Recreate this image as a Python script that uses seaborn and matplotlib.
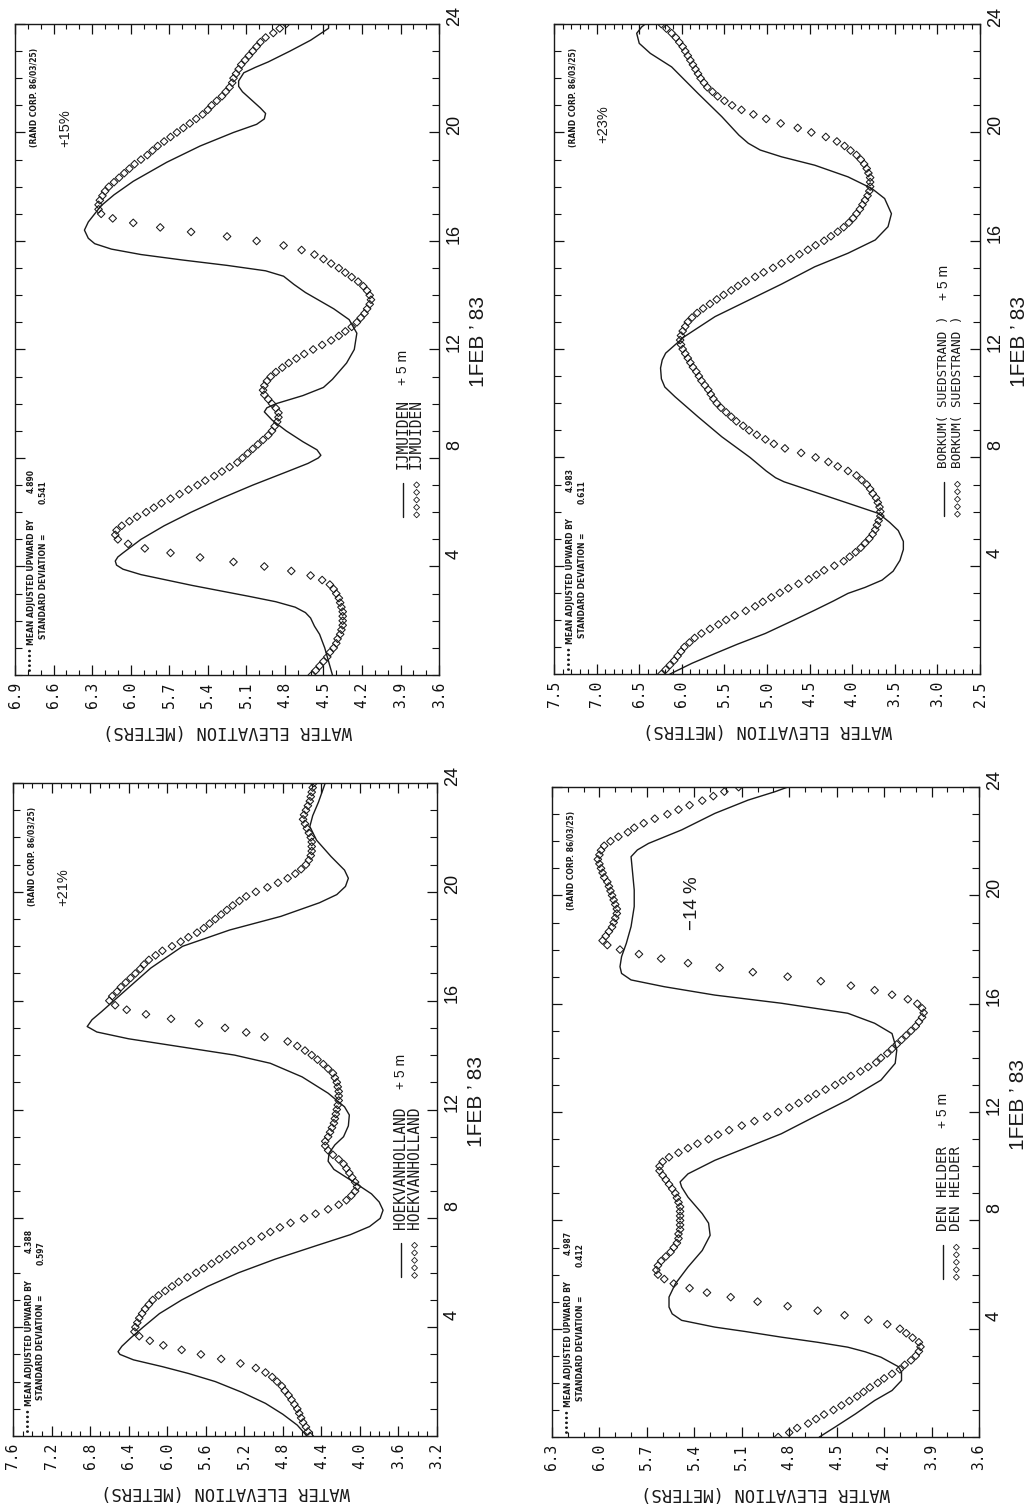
import numpy as np
import pandas as pd
import matplotlib
matplotlib.use("Agg")
import matplotlib.pyplot as plt
import seaborn as sns
from matplotlib.ticker import MultipleLocator
from matplotlib.transforms import ScaledTranslation

sns.set_theme(style="ticks", rc={"axes.edgecolor": "#111111", "axes.linewidth": 1.0,
                                 "xtick.color": "#111111", "ytick.color": "#111111"})
plt.rcParams["font.family"] = ["DejaVu Sans"]

INK = "#1a1a1a"

# ---------------- data ----------------
# observation times: every 10 minutes, 1 Feb 1983, 0-24 h
OBS_HOURS = np.linspace(0, 24, 145)
TIME_TICKS = [4, 8, 12, 16, 20, 24]

# IJMUIDEN
IJM_TICKS = [6.9, 6.6, 6.3, 6.0, 5.7, 5.4, 5.1, 4.8, 4.5, 4.2, 3.9, 3.6]
IJM_LINE = [(0, 4.43), (0.5, 4.46), (1.0, 4.49), (1.5, 4.53), (1.8, 4.57), (2.1, 4.60), (2.3, 4.64),
            (2.5, 4.72), (2.7, 4.87), (2.9, 5.08), (3.1, 5.30), (3.3, 5.52), (3.5, 5.72), (3.7, 5.92),
            (3.9, 6.06), (4.05, 6.11), (4.2, 6.12), (4.35, 6.10), (4.5, 6.06), (5.0, 5.92), (5.5, 5.74),
            (6.0, 5.53), (6.5, 5.30), (7.0, 5.05), (7.5, 4.78), (7.8, 4.62), (8.0, 4.54), (8.1, 4.52),
            (8.3, 4.55), (8.6, 4.66), (9.0, 4.79), (9.4, 4.90), (9.7, 4.96), (9.85, 4.94), (10.0, 4.87),
            (10.3, 4.66), (10.6, 4.50), (10.9, 4.43), (11.5, 4.32), (12.0, 4.26), (12.6, 4.24),
            (13.1, 4.30), (13.5, 4.42), (13.8, 4.53), (14.1, 4.64), (14.4, 4.73), (14.7, 4.81),
            (14.9, 4.95), (15.1, 5.25), (15.3, 5.60), (15.5, 5.92), (15.7, 6.15), (15.9, 6.28),
            (16.1, 6.33), (16.4, 6.36), (16.7, 6.33), (17.0, 6.28), (17.3, 6.23), (17.7, 6.13),
            (18.2, 5.98), (18.9, 5.72), (19.5, 5.46), (20.0, 5.20), (20.3, 5.02), (20.5, 4.96),
            (20.7, 4.95), (20.9, 4.99), (21.2, 5.06), (21.5, 5.13), (21.7, 5.16), (21.9, 5.16),
            (22.2, 5.12), (22.4, 5.03), (22.6, 4.93), (23.0, 4.76), (23.4, 4.60), (23.84, 4.46),
            (24.0, 4.46)]
IJM_OBS = [4.59, 4.56, 4.53, 4.50, 4.47, 4.45, 4.42, 4.40, 4.39, 4.37, 4.36, 4.35,
           4.35, 4.35, 4.35, 4.36, 4.37, 4.38, 4.40, 4.42, 4.45, 4.51, 4.60, 4.75,
           4.96, 5.20, 5.46, 5.69, 5.89, 6.02, 6.10, 6.12, 6.11, 6.07, 6.01, 5.95,
           5.88, 5.82, 5.76, 5.69, 5.62, 5.55, 5.48, 5.42, 5.35, 5.29, 5.23, 5.17,
           5.13, 5.09, 5.05, 5.01, 4.97, 4.93, 4.90, 4.88, 4.86, 4.85, 4.85, 4.87,
           4.90, 4.93, 4.96, 4.97, 4.96, 4.94, 4.91, 4.87, 4.82, 4.77, 4.71, 4.65,
           4.58, 4.51, 4.44, 4.38, 4.33, 4.28, 4.24, 4.21, 4.18, 4.16, 4.14, 4.13,
           4.14, 4.16, 4.19, 4.23, 4.28, 4.33, 4.38, 4.44, 4.50, 4.57, 4.67, 4.81,
           5.02, 5.25, 5.53, 5.77, 5.98, 6.14, 6.23, 6.25, 6.25, 6.24, 6.22, 6.20,
           6.17, 6.13, 6.09, 6.05, 6.01, 5.97, 5.92, 5.87, 5.83, 5.79, 5.74, 5.69,
           5.64, 5.59, 5.54, 5.49, 5.44, 5.40, 5.37, 5.33, 5.29, 5.26, 5.23, 5.21,
           5.20, 5.18, 5.16, 5.14, 5.11, 5.08, 5.05, 5.02, 4.99, 4.95, 4.89, 4.84,
           4.79]

# BORKUM (SUEDSTRAND)
BOR_TICKS = [7.5, 7.0, 6.5, 6.0, 5.5, 5.0, 4.5, 4.0, 3.5, 3.0, 2.5]
BOR_LINE = [(0, 6.14), (0.4, 5.88), (0.76, 5.61), (1.1, 5.35), (1.5, 5.02), (2.0, 4.68), (2.36, 4.44),
            (2.7, 4.22), (2.98, 4.05), (3.2, 3.85), (3.47, 3.65), (3.8, 3.52), (4.2, 3.44), (4.6, 3.40),
            (4.9, 3.40), (5.3, 3.46), (5.6, 3.56), (5.93, 3.69), (6.3, 4.04), (6.7, 4.42), (7.1, 4.80),
            (7.25, 4.90), (7.5, 5.01), (8.0, 5.20), (8.76, 5.53), (9.5, 5.81), (10.24, 6.08),
            (10.6, 6.20), (10.9, 6.24), (11.3, 6.25), (11.6, 6.23), (11.85, 6.19), (12.1, 6.10),
            (12.46, 5.97), (13.2, 5.61), (13.8, 5.22), (14.4, 4.83), (15.04, 4.44), (15.54, 4.05),
            (16.03, 3.73), (16.52, 3.58), (17.0, 3.54), (17.56, 3.62), (17.93, 3.77), (18.36, 4.05),
            (18.79, 4.44), (19.1, 4.83), (19.35, 5.08), (19.6, 5.22), (19.9, 5.33), (20.58, 5.53),
            (21.44, 5.81), (22.42, 6.12), (22.92, 6.37), (23.29, 6.50), (23.66, 6.53), (23.9, 6.47),
            (24.0, 6.43)]
BOR_OBS = [6.24, 6.19, 6.14, 6.09, 6.05, 6.01, 5.97, 5.91, 5.85, 5.77, 5.67, 5.57,
           5.48, 5.38, 5.25, 5.14, 5.05, 4.95, 4.85, 4.75, 4.63, 4.51, 4.42, 4.33,
           4.21, 4.10, 4.03, 3.96, 3.90, 3.85, 3.80, 3.76, 3.73, 3.71, 3.69, 3.67,
           3.67, 3.68, 3.70, 3.72, 3.76, 3.79, 3.83, 3.89, 3.95, 4.05, 4.17, 4.28,
           4.43, 4.60, 4.79, 4.92, 5.02, 5.12, 5.21, 5.28, 5.36, 5.42, 5.48, 5.54,
           5.59, 5.63, 5.66, 5.69, 5.73, 5.77, 5.80, 5.83, 5.87, 5.90, 5.93, 5.96,
           5.99, 6.01, 6.02, 6.01, 5.99, 5.96, 5.93, 5.88, 5.82, 5.75, 5.67, 5.59,
           5.51, 5.42, 5.34, 5.25, 5.14, 5.04, 4.93, 4.83, 4.72, 4.62, 4.52, 4.43,
           4.33, 4.25, 4.17, 4.10, 4.04, 3.99, 3.95, 3.91, 3.88, 3.85, 3.82, 3.80,
           3.79, 3.79, 3.79, 3.81, 3.83, 3.86, 3.90, 3.95, 4.02, 4.09, 4.18, 4.31,
           4.48, 4.64, 4.84, 5.01, 5.16, 5.30, 5.41, 5.50, 5.58, 5.64, 5.70, 5.74,
           5.78, 5.81, 5.84, 5.87, 5.90, 5.93, 5.96, 5.99, 6.03, 6.07, 6.12, 6.18,
           6.24]

# HOEKVANHOLLAND
HVH_TICKS = [7.6, 7.2, 6.8, 6.4, 6.0, 5.6, 5.2, 4.8, 4.4, 4.0, 3.6, 3.2]
HVH_LINE = [(0, 4.55), (0.4, 4.65), (0.8, 4.80), (1.2, 4.98), (1.6, 5.22), (2.0, 5.50), (2.3, 5.78),
            (2.55, 6.05), (2.8, 6.35), (3.0, 6.49), (3.1, 6.51), (3.3, 6.47), (3.6, 6.38), (4.0, 6.25),
            (4.5, 6.08), (5.0, 5.85), (5.5, 5.58), (6.0, 5.26), (6.5, 4.88), (7.0, 4.45), (7.4, 4.10),
            (7.7, 3.90), (8.0, 3.79), (8.3, 3.76), (8.6, 3.80), (8.9, 3.88), (9.3, 4.05), (9.8, 4.27),
            (10.1, 4.33), (10.4, 4.32), (10.7, 4.26), (11.0, 4.17), (11.4, 4.12), (11.8, 4.11),
            (12.1, 4.16), (12.6, 4.33), (13.2, 4.60), (13.7, 4.93), (14.0, 5.30), (14.3, 5.85),
            (14.6, 6.40), (14.85, 6.73), (15.05, 6.83), (15.3, 6.78), (15.6, 6.68), (16.2, 6.49),
            (17.2, 6.17), (18.0, 5.84), (18.6, 5.35), (19.1, 4.82), (19.6, 4.42), (19.9, 4.24),
            (20.2, 4.15), (20.5, 4.12), (20.8, 4.16), (21.3, 4.30), (21.9, 4.45), (22.4, 4.52),
            (22.8, 4.49), (23.3, 4.43), (23.8, 4.38), (24.0, 4.36)]
HVH_OBS = [4.52, 4.54, 4.56, 4.59, 4.61, 4.63, 4.65, 4.68, 4.71, 4.74, 4.78, 4.81,
           4.86, 4.91, 4.98, 5.08, 5.24, 5.44, 5.65, 5.85, 6.04, 6.18, 6.29, 6.34,
           6.33, 6.31, 6.29, 6.26, 6.23, 6.19, 6.15, 6.09, 6.02, 5.95, 5.88, 5.79,
           5.70, 5.62, 5.54, 5.46, 5.38, 5.30, 5.22, 5.13, 5.02, 4.93, 4.83, 4.72,
           4.58, 4.46, 4.33, 4.22, 4.14, 4.09, 4.05, 4.03, 4.05, 4.08, 4.11, 4.14,
           4.17, 4.22, 4.28, 4.33, 4.36, 4.36, 4.33, 4.31, 4.29, 4.27, 4.26, 4.25,
           4.24, 4.23, 4.22, 4.22, 4.22, 4.23, 4.24, 4.26, 4.28, 4.33, 4.38, 4.44,
           4.50, 4.57, 4.65, 4.75, 4.99, 5.18, 5.40, 5.67, 5.96, 6.22, 6.42, 6.54,
           6.60, 6.57, 6.52, 6.48, 6.43, 6.38, 6.33, 6.28, 6.24, 6.19, 6.12, 6.05,
           5.95, 5.86, 5.78, 5.69, 5.62, 5.56, 5.50, 5.44, 5.38, 5.32, 5.25, 5.18,
           5.08, 4.96, 4.85, 4.75, 4.67, 4.61, 4.56, 4.53, 4.51, 4.50, 4.50, 4.50,
           4.51, 4.53, 4.55, 4.57, 4.59, 4.58, 4.56, 4.54, 4.52, 4.51, 4.50, 4.49,
           4.48]

# DEN HELDER
DH_TICKS = [6.3, 6.0, 5.7, 5.4, 5.1, 4.8, 4.5, 4.2, 3.9, 3.6]
DH_LINE = [(0, 4.61), (0.37, 4.51), (0.86, 4.38), (1.35, 4.26), (1.72, 4.15), (2.09, 4.09), (2.4, 4.09),
           (2.6, 4.11), (2.95, 4.22), (3.15, 4.32), (3.32, 4.43), (3.5, 4.62), (3.69, 4.85), (3.9, 5.08),
           (4.06, 5.27), (4.31, 5.48), (4.55, 5.54), (4.8, 5.56), (5.17, 5.56), (5.66, 5.52),
           (6.28, 5.44), (6.89, 5.35), (7.45, 5.30), (7.9, 5.31), (8.25, 5.35), (8.86, 5.44),
           (9.23, 5.48), (9.42, 5.49), (9.72, 5.44), (10.22, 5.27), (10.71, 5.06), (11.2, 4.85),
           (11.83, 4.64), (12.45, 4.43), (13.18, 4.22), (13.8, 4.13), (14.29, 4.12), (14.9, 4.15),
           (15.28, 4.26), (15.65, 4.43), (16.02, 4.85), (16.32, 5.27), (16.63, 5.59), (16.88, 5.80),
           (17.12, 5.86), (17.37, 5.87), (17.74, 5.86), (18.23, 5.83), (18.85, 5.80), (19.59, 5.78),
           (20.2, 5.78), (20.82, 5.79), (21.43, 5.80), (21.68, 5.76), (21.92, 5.69), (22.42, 5.48),
           (23.03, 5.27), (23.52, 5.06), (23.83, 4.89), (24.0, 4.81)]
DH_OBS = [4.87, 4.80, 4.75, 4.68, 4.63, 4.58, 4.52, 4.47, 4.42, 4.37, 4.33, 4.29,
          4.24, 4.20, 4.15, 4.10, 4.07, 4.03, 4.00, 3.98, 3.97, 3.98, 4.02, 4.06,
          4.10, 4.18, 4.30, 4.45, 4.62, 4.81, 5.00, 5.17, 5.32, 5.43, 5.53, 5.59,
          5.63, 5.64, 5.63, 5.61, 5.58, 5.55, 5.53, 5.51, 5.50, 5.50, 5.49, 5.49,
          5.49, 5.49, 5.49, 5.49, 5.50, 5.51, 5.52, 5.54, 5.56, 5.58, 5.60, 5.62,
          5.62, 5.60, 5.56, 5.50, 5.44, 5.38, 5.31, 5.25, 5.18, 5.10, 5.02, 4.94,
          4.87, 4.80, 4.74, 4.68, 4.63, 4.57, 4.51, 4.46, 4.41, 4.35, 4.30, 4.25,
          4.22, 4.18, 4.15, 4.12, 4.09, 4.06, 4.03, 4.00, 3.98, 3.96, 3.95, 3.96,
          3.99, 4.05, 4.15, 4.26, 4.41, 4.60, 4.81, 5.03, 5.24, 5.44, 5.61, 5.75,
          5.87, 5.95, 5.98, 5.96, 5.94, 5.92, 5.91, 5.90, 5.89, 5.89, 5.90, 5.91,
          5.92, 5.93, 5.94, 5.95, 5.97, 5.98, 5.99, 6.00, 6.01, 6.00, 5.99, 5.97,
          5.93, 5.88, 5.82, 5.78, 5.72, 5.65, 5.57, 5.50, 5.43, 5.35, 5.28, 5.21,
          5.12]

PANELS = [
    dict(name="IJMUIDEN", line=IJM_LINE, obs=IJM_OBS, ticks=IJM_TICKS,
         rect=[0.0146, 0.5521, 0.4117, 0.4320], mean="4.890", sd="0.541",
         pct="+15%", pct_xy=(0.118, 0.811), pct_size=10.5, plus_y=0.445, leg_size=10.5),
    dict(name="BORKUM( SUEDSTRAND )", line=BOR_LINE, obs=BOR_OBS, ticks=BOR_TICKS,
         rect=[0.5379, 0.5527, 0.4136, 0.4313], mean="4.983", sd="0.611",
         pct="+23%", pct_xy=(0.115, 0.817), pct_size=10.5, plus_y=0.575, leg_size=9.2),
    dict(name="HOEKVANHOLLAND", line=HVH_LINE, obs=HVH_OBS, ticks=HVH_TICKS,
         rect=[0.0126, 0.0471, 0.4117, 0.4333], mean="4.388", sd="0.597",
         pct="+21%", pct_xy=(0.118, 0.812), pct_size=10.5, plus_y=0.531, leg_size=10.5),
    dict(name="DEN HELDER", line=DH_LINE, obs=DH_OBS, ticks=DH_TICKS,
         rect=[0.5359, 0.0464, 0.4146, 0.4313], mean="4.987", sd="0.412",
         pct="\u221214 %", pct_xy=(0.328, 0.780), pct_size=13.5, plus_y=0.475, leg_size=10.2),
]

fig = plt.figure(figsize=(10.30, 15.07), dpi=100, facecolor="white")

SANS = "Liberation Sans"
MONO = "DejaVu Sans Mono"

for p in PANELS:
    ax = fig.add_axes(p["rect"])
    lt, le = zip(*p["line"])
    df_line = pd.DataFrame({"elev": le, "hour": lt})
    df_obs = pd.DataFrame({"elev": p["obs"], "hour": OBS_HOURS})

    sns.lineplot(data=df_line, x="elev", y="hour", sort=False, estimator=None,
                 color=INK, linewidth=1.0, ax=ax)
    sns.scatterplot(data=df_obs, x="elev", y="hour", marker="D", s=15,
                    facecolor="none", edgecolor=INK, linewidth=0.75, ax=ax, zorder=3)
    ax.collections[-1].set_facecolor("none")

    ticks = p["ticks"]
    ax.set_xlim(ticks[0], ticks[-1])
    ax.set_ylim(0, 24)

    ax.set_xticks(ticks, labels=[f"{v:.1f}" for v in ticks])
    ax.xaxis.set_minor_locator(MultipleLocator(0.1))
    ax.set_yticks(TIME_TICKS, labels=[str(v) for v in TIME_TICKS])
    ax.yaxis.set_minor_locator(MultipleLocator(1))

    ax.tick_params(axis="x", which="both", direction="in", top=True, bottom=True,
                   labelrotation=90, labelsize=10.5, pad=5)
    ax.tick_params(axis="x", which="major", length=7, width=0.9)
    ax.tick_params(axis="x", which="minor", length=3.5, width=0.8)
    ax.tick_params(axis="y", which="both", direction="in", left=True, right=True,
                   labelleft=False, labelright=True, labelrotation=90, labelsize=13, pad=5)
    ax.tick_params(axis="y", which="major", length=7, width=0.9)
    ax.tick_params(axis="y", which="minor", length=5, width=0.8)

    for lbl in ax.get_xticklabels():
        lbl.set_fontfamily(MONO)
    shift = ScaledTranslation(0, 11 / 100, fig.dpi_scale_trans)
    for lbl in ax.get_yticklabels():
        lbl.set_fontfamily(SANS)
        lbl.set_transform(lbl.get_transform() + shift)

    ax.set_ylabel("")
    ax.set_xlabel("WATER ELEVATION (METERS)", fontfamily=MONO, fontsize=12.4,
                  rotation=180, va="center", ha="center", color=INK)
    ax.xaxis.set_label_coords(0.5, -0.086)

    ax.text(1.092, 0.512, "1FEB \u2019 83", transform=ax.transAxes, rotation=90,
            ha="center", va="center", fontsize=15, fontfamily=SANS, color=INK)

    # header annotations (tiny plotter text)
    small = dict(transform=ax.transAxes, rotation=90, ha="center", va="bottom",
                 fontsize=5.5, fontweight="bold", fontfamily="DejaVu Sans", color=INK)
    ax.text(0.038, 0.004, "\u2022\u2022\u2022\u2022\u2022 MEAN ADJUSTED UPWARD BY", **small)
    ax.text(0.038, 0.280, p["mean"], **small)
    ax.text(0.066, 0.055, "STANDARD DEVIATION =", **small)
    ax.text(0.066, 0.262, p["sd"], **small)
    ax.text(0.045, 0.811, "(RAND CORP. 86/03/25)", **small)

    ax.text(p["pct_xy"][0], p["pct_xy"][1], p["pct"], transform=ax.transAxes, rotation=90,
            ha="center", va="bottom", fontsize=p["pct_size"], fontfamily=SANS, color=INK)

    # legend (rotated with the page)
    lx1, lx2 = 0.915, 0.947
    ax.plot([lx1, lx1], [0.243, 0.295], transform=ax.transAxes, color=INK, lw=1.0)
    ax.scatter([lx2] * 5, np.linspace(0.246, 0.292, 5), transform=ax.transAxes, marker="D",
               s=9, facecolor="none", edgecolor=INK, linewidth=0.6)
    leg = dict(transform=ax.transAxes, rotation=90, ha="center", va="bottom",
               fontsize=p["leg_size"], fontfamily=MONO, color=INK)
    ax.text(lx1, 0.317, p["name"], **leg)
    ax.text(lx2, 0.317, p["name"], **leg)
    ax.text(lx1, p["plus_y"], "+ 5 m", transform=ax.transAxes, rotation=90, ha="center",
            va="bottom", fontsize=10, fontfamily=SANS, color=INK)

    for s in ax.spines.values():
        s.set_visible(True)
        s.set_color(INK)
        s.set_linewidth(1.0)

fig.savefig("out.png", dpi=100, facecolor="white")
